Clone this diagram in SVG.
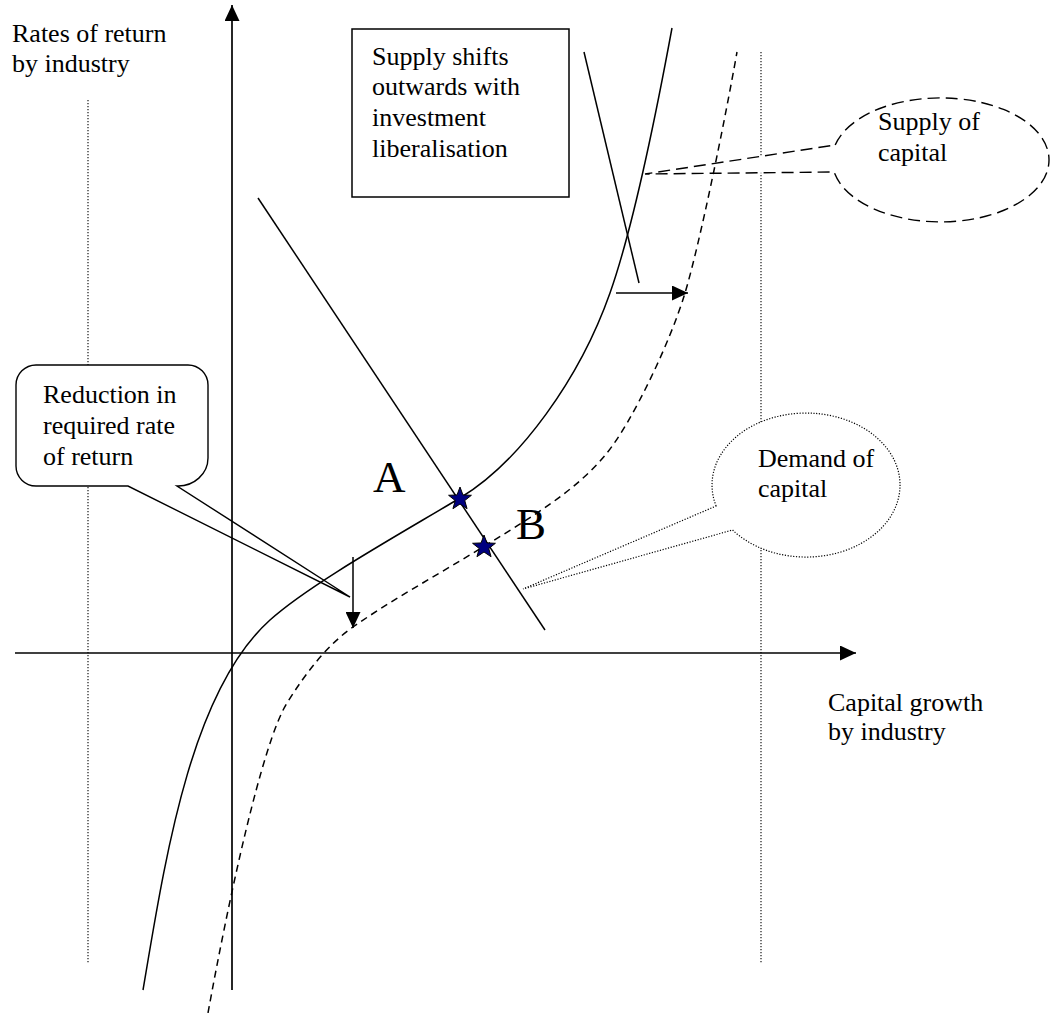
<svg xmlns="http://www.w3.org/2000/svg" width="1051" height="1013" viewBox="0 0 1051 1013">
<style>
text{font-family:"Liberation Serif","Times New Roman",serif;font-size:26px;fill:#000}
.big{font-size:45px}
.ln{fill:none;stroke:#000;stroke-width:1.5}
.ax{fill:none;stroke:#000;stroke-width:1.7}
.dot{fill:none;stroke:#000;stroke-width:1.1;stroke-dasharray:1.2 1.8}
.dash{fill:none;stroke:#000;stroke-width:1.5;stroke-dasharray:7 5}
.star{fill:#000080;stroke:#000;stroke-width:1}
</style>
<defs>
<marker id="ah" markerUnits="userSpaceOnUse" viewBox="0 0 16 15" markerWidth="16" markerHeight="15" refX="16" refY="7.5" orient="auto">
<path d="M0,0 L16,7.5 L0,15 Z" fill="#000"/>
</marker>
<polygon id="st" points="0,-12 2.94,-4.05 11.41,-3.71 4.76,1.55 7.05,9.71 0,5 -7.05,9.71 -4.76,1.55 -11.41,-3.71 -2.94,-4.05"/>
</defs>
<rect width="1051" height="1013" fill="#fff"/>
<g id="guides">
<line class="dot" x1="88" y1="100" x2="88" y2="963"/>
<line class="dot" x1="761" y1="52" x2="761" y2="963"/>
</g>
<g id="callout-reduction">
<path d="M36,365 H188 A20,20 0 0 1 208,385 V458 A30,28 0 0 1 177,486 L350,597 L128,486 H36 A20,20 0 0 1 16,466 V385 A20,20 0 0 1 36,365 Z" fill="#fff" stroke="#000" stroke-width="1.4"/>
<text x="43" y="403">Reduction in</text>
<text x="43" y="434">required rate</text>
<text x="43" y="465">of return</text>
</g>
<g id="callout-supply">
<path d="M835.2,145 A108.5,62 0 1 1 834.1,172 L645,174 Z" fill="#fff" stroke="#000" stroke-width="1.4" stroke-dasharray="12 6"/>
<text x="878" y="130">Supply of</text>
<text x="878" y="161">capital</text>
</g>
<g id="callout-demand">
<path d="M716.1,506 A94,72 0 1 1 732.6,530 L523,589 Z" fill="#fff" stroke="#000" stroke-width="1.2" stroke-dasharray="1.2 1.6"/>
<text x="758" y="467">Demand of</text>
<text x="758" y="497">capital</text>
</g>
<g id="box-supply-shift">
<rect x="352" y="29" width="217" height="168" fill="#fff" stroke="#000" stroke-width="1.5"/>
<text x="372" y="65">Supply shifts</text>
<text x="372" y="95">outwards with</text>
<text x="372" y="126">investment</text>
<text x="372" y="157">liberalisation</text>
</g>
<g id="axis-labels">
<text x="12" y="42">Rates of return</text>
<text x="12" y="72">by industry</text>
<text x="828" y="711">Capital growth</text>
<text x="828" y="740">by industry</text>
</g>
<g id="connectors">
<line class="ax" x1="232" y1="990" x2="232" y2="5" marker-end="url(#ah)"/>
<line class="ax" x1="15" y1="653" x2="856" y2="653" marker-end="url(#ah)"/>
<path id="supply" class="ln" d="M143,990 C165,860 190,692 270,620 C310,584 400,534 460,498 C520,462 580,378 610,293 C635,222 660,93 672,28"/>
<path id="supply-shifted" class="dash" d="M208,1013 C228,903 262,743 287,703 C307,671 328,644.5 353,627 C393,599 438,574.7 483,547 C528,519.3 577,490.5 607,453 C632,422 670,343 685,293 C700,243 725,120 737,52"/>
<line id="demand" class="ln" x1="258" y1="198" x2="545" y2="630"/>
<line class="ln" x1="584" y1="52" x2="639" y2="283"/>
<line class="ln" x1="616" y1="293" x2="688" y2="293" marker-end="url(#ah)"/>
<line class="ln" x1="353" y1="557" x2="353" y2="628" marker-end="url(#ah)"/>
</g>
<g id="point-A">
<use href="#st" class="star" x="460" y="499"/>
<text class="big" x="373" y="492">A</text>
</g>
<g id="point-B">
<use href="#st" class="star" x="484" y="547"/>
<text class="big" x="516" y="539">B</text>
</g>
</svg>
